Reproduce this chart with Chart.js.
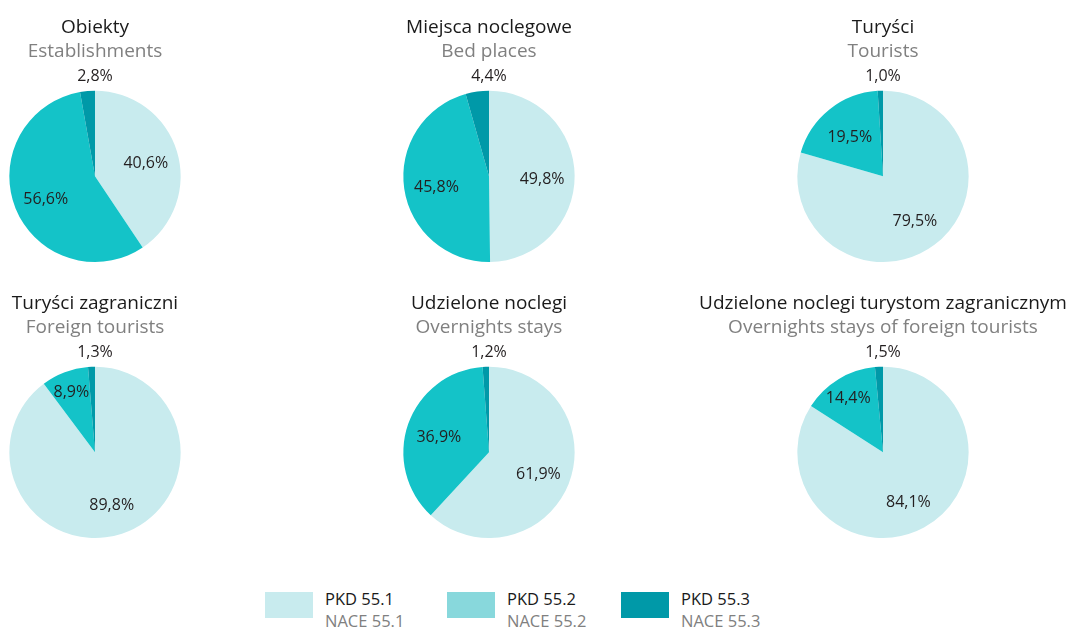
<!DOCTYPE html>
<html>
<head>
<meta charset="utf-8">
<script src="https://cdn.jsdelivr.net/npm/chart.js@4.4.1/dist/chart.umd.min.js"></script>
<style>
  html, body { margin: 0; padding: 0; background: #fff; }
  body { width: 1072px; height: 632px; position: relative; overflow: hidden; font-family: "Open Sans", sans-serif; }
  .pie { position: absolute; }
  .legend { position: absolute; top: 588px; left: 265px; display: flex; }
  .legend .item { display: flex; align-items: flex-start; }
  .legend .box { width: 48px; height: 26px; margin-top: 4px; margin-right: 12px; }
  .legend .txt { font-size: 16.5px; line-height: 22px; color: #1a1a1a; }
  .legend .txt span { color: #808080; display: block; }
</style>
</head>
<body>
<div id="charts"></div>
<div class="legend" id="legend"></div>
<script>
const titlesPl = ["Obiekty", "Miejsca noclegowe", "Turyści", "Turyści zagraniczni", "Udzielone noclegi", "Udzielone noclegi turystom zagranicznym"];
const titlesEn = ["Establishments", "Bed places", "Tourists", "Foreign tourists", "Overnights stays", "Overnights stays of foreign tourists"];
const categories = ["PKD 55.1", "PKD 55.2", "PKD 55.3"];
const categoriesEn = ["NACE 55.1", "NACE 55.2", "NACE 55.3"];
const share551 = [40.6, 49.8, 79.5, 89.8, 61.9, 84.1];
const share552 = [56.6, 45.8, 19.5, 8.9, 36.9, 14.4];
const share553 = [2.8, 4.4, 1.0, 1.3, 1.2, 1.5];

const pieColors = ["#c8ebee", "#14c3c8", "#0099a8"];
const legendColors = ["#c8ebee", "#88d8dc", "#0099a8"];

// column centres / widths, row tops
const colCenter = [95, 489, 883];
const colWidth = [190, 360, 378];
const rowTop = [0, 276];
const legendItemWidth = [182, 174, 180];

const fmt = v => v.toFixed(1).replace(".", ",") + "%";

// percentage labels: small slices go above the pie
const pieLabels = {
  id: "pieLabels",
  afterDatasetsDraw(chart) {
    const ctx = chart.ctx;
    const meta = chart.getDatasetMeta(0);
    const vals = chart.data.datasets[0].data;
    ctx.save();
    ctx.font = "16px 'Open Sans'";
    ctx.fillStyle = "#231f20";
    ctx.textAlign = "center";
    ctx.textBaseline = "middle";
    meta.data.forEach((arc, i) => {
      const p = arc.getProps(["x", "y", "startAngle", "endAngle", "outerRadius"], true);
      const v = vals[i];
      let x, y;
      if (v < 5) {
        x = p.x;
        y = p.y - p.outerRadius - 14;
      } else {
        const mid = (p.startAngle + p.endAngle) / 2;
        const r = p.outerRadius * (v < 16 ? 0.78 : 0.62);
        x = p.x + Math.cos(mid) * r;
        y = p.y + Math.sin(mid) * r + 3;
      }
      ctx.fillText(fmt(v), x, y);
    });
    ctx.restore();
  }
};

const holder = document.getElementById("charts");
for (let i = 0; i < 6; i++) {
  const col = i % 3, row = Math.floor(i / 3);
  const div = document.createElement("div");
  div.className = "pie";
  div.style.left = (colCenter[col] - colWidth[col] / 2) + "px";
  div.style.top = rowTop[row] + "px";
  div.style.width = colWidth[col] + "px";
  div.style.height = "266px";
  const cv = document.createElement("canvas");
  div.appendChild(cv);
  holder.appendChild(div);

  new Chart(cv.getContext("2d"), {
    type: "pie",
    data: {
      labels: categories,
      datasets: [{
        data: [share551[i], share552[i], share553[i]],
        backgroundColor: pieColors,
        borderWidth: 0
      }]
    },
    options: {
      responsive: true,
      maintainAspectRatio: false,
      animation: false,
      layout: { padding: { top: 0, bottom: 4, left: 0, right: 0 } },
      plugins: {
        legend: { display: false },
        tooltip: { enabled: false },
        title: {
          display: true,
          text: titlesPl[i],
          color: "#1a1a1a",
          font: { family: "'Open Sans'", size: 19, weight: "normal", lineHeight: 1.2 },
          padding: { top: 16.4, bottom: 0.6 }
        },
        subtitle: {
          display: true,
          text: titlesEn[i],
          color: "#808080",
          font: { family: "'Open Sans'", size: 19, weight: "normal", lineHeight: 1.2 },
          padding: { top: 0.6, bottom: 27.5 }
        }
      }
    },
    plugins: [pieLabels]
  });
}

const legend = document.getElementById("legend");
categories.forEach((c, i) => {
  const item = document.createElement("div");
  item.className = "item";
  item.style.width = legendItemWidth[i] + "px";
  item.innerHTML = '<div class="box" style="background:' + legendColors[i] + '"></div>' +
    '<div class="txt">' + c + '<span>' + categoriesEn[i] + '</span></div>';
  legend.appendChild(item);
});
</script>
</body>
</html>
